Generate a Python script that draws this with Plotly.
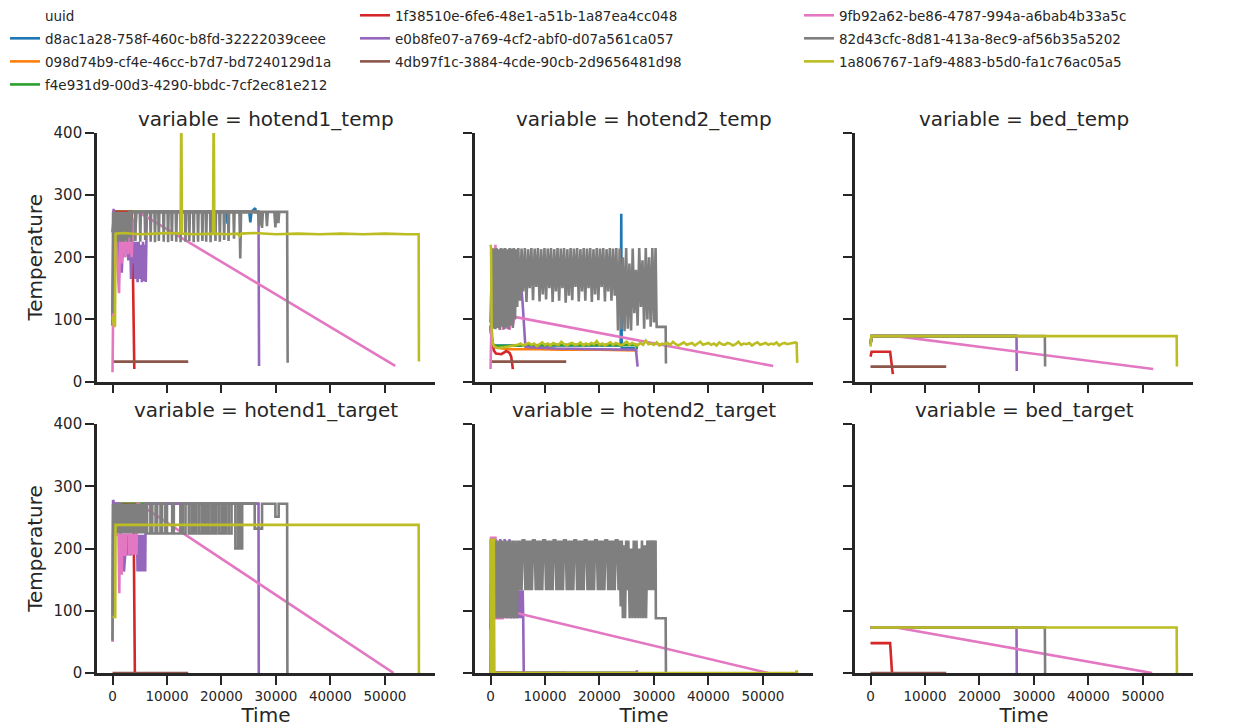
import plotly.graph_objects as go

# ---------------- categories / labels ----------------
PANELS = ["hotend1_temp", "hotend2_temp", "bed_temp",
          "hotend1_target", "hotend2_target", "bed_target"]
UUIDS = ["d8ac1a28-758f-460c-b8fd-32222039ceee",
         "098d74b9-cf4e-46cc-b7d7-bd7240129d1a",
         "f4e931d9-00d3-4290-bbdc-7cf2ec81e212",
         "1f38510e-6fe6-48e1-a51b-1a87ea4cc048",
         "e0b8fe07-a769-4cf2-abf0-d07a561ca057",
         "4db97f1c-3884-4cde-90cb-2d9656481d98",
         "9fb92a62-be86-4787-994a-a6bab4b33a5c",
         "82d43cfc-8d81-413a-8ec9-af56b35a5202",
         "1a806767-1af9-4883-b5d0-fa1c76ac05a5"]
COLORS = ["#1f77b4", "#ff7f0e", "#2ca02c", "#d62728", "#9467bd",
          "#8c564b", "#e377c2", "#7f7f7f", "#bcbd22"]
X_TICKS = [0, 10000, 20000, 30000, 40000, 50000]
Y_TICKS = [0, 100, 200, 300, 400]

# ---------------- series values: (Time, Temperature) ----------------
# d8ac1a28 (blue)
blue_h1t = [(0, 240), (300, 273), (21000, 273), (21100, 254), (21200, 273), (25100, 273),
            (25300, 256), (25500, 273), (26200, 279), (26300, 273), (26500, 273)]
blue_h2t = [(0, 85), (400, 58), (23900, 58), (24000, 270), (24080, 54), (26500, 54)]
blue_bt = [(0, 60), (200, 73), (26500, 73)]
blue_h1g = [(0, 272), (26500, 272)]
blue_h2g = [(0, 0), (26500, 0)]
blue_bg = [(0, 73), (26500, 73)]

# 098d74b9 (orange)
orange_h1t = [(0, 90), (300, 273), (27000, 273)]
orange_h2t = [(0, 90), (300, 60), (800, 55), (3000, 52), (9000, 52), (13000, 51),
              (20000, 51), (27000, 50)]
orange_bt = [(0, 60), (200, 73), (27000, 73)]
orange_h1g = [(0, 272), (27000, 272)]
orange_h2g = [(0, 0), (27000, 0)]
orange_bg = [(0, 73), (27000, 73)]

# f4e931d9 (green)
green_h1t = [(0, 90), (300, 273), (26900, 273)]
green_h2t = [(0, 90), (300, 62), (800, 57), (5000, 58), (12000, 59), (20000, 59),
             (26800, 59), (26850, 52)]
green_bt = [(0, 60), (200, 73), (26900, 73)]
green_h1g = [(0, 272), (26900, 272)]
green_h2g = [(0, 0), (26900, 0)]
green_bg = [(0, 73), (26900, 73)]

# 1f38510e (red)
red_h1t = [(0, 273), (3500, 273), (3700, 205), (4000, 20)]
red_h2t = [(100, 80), (600, 50), (1000, 45), (2000, 44), (2900, 49), (3500, 46),
           (3800, 40), (4100, 20)]
red_bt = [(0, 40), (200, 48), (3600, 48), (4100, 12)]
red_h1g = [(0, 270), (3850, 270), (4100, 0)]
red_h2g = [(0, 28), (50, 28), (100, 0), (4100, 0)]
red_bg = [(0, 48), (3600, 48), (3950, 0)]

# e0b8fe07 (purple)
purple_h1t = [(0, 100), (200, 278), (500, 210), (800, 255), (1150, 162), (1400, 240),
              (1700, 175), (2000, 250), (2300, 200), (2600, 255), (2900, 195), (3200, 245),
              (3400, 165), (3600, 225), (3800, 190), (4000, 225), (4200, 165), (4400, 225),
              (4600, 160), (4800, 225), (5000, 165), (5200, 220), (5400, 160), (5600, 225),
              (5800, 162), (6000, 220), (6100, 160), (6300, 273), (26800, 273), (26900, 25)]
purple_h2t = [(0, 95), (300, 210), (1000, 140), (2000, 200), (3000, 150), (4000, 190),
              (5000, 170), (5600, 158), (5900, 125), (6400, 56), (7000, 55), (12000, 53),
              (20000, 52), (26700, 51), (27000, 24)]
purple_bt = [(0, 60), (200, 73), (26800, 73), (26850, 17)]
purple_h1g = [(0, 90), (100, 278), (300, 272), (1400, 272), (1500, 163), (1600, 222),
              (1700, 163), (1800, 222), (1900, 163), (2000, 222), (2100, 163), (2600, 222),
              (2700, 189), (2800, 222), (2900, 189), (3000, 222), (3100, 189), (3200, 222),
              (3300, 189), (4500, 222), (4600, 163), (4700, 222), (4800, 163), (4900, 222),
              (5000, 163), (5100, 222), (5200, 163), (5300, 222), (5400, 163), (5500, 222),
              (5600, 163), (5700, 222), (5800, 163), (5900, 222), (6000, 163), (6100, 272),
              (26800, 272), (26850, 0)]
purple_h2g = [(0, 0), (200, 215), (600, 88), (1000, 215), (1400, 88), (1800, 215),
              (2200, 88), (2600, 215), (3000, 88), (3500, 215), (3700, 88), (4000, 98),
              (4300, 88), (4600, 98), (4900, 88), (5100, 133), (5300, 88), (5500, 133),
              (5700, 88), (5900, 133), (6000, 88), (6100, 0), (26800, 0), (26850, 4),
              (26900, 0)]
purple_bg = [(0, 73), (26800, 73), (26850, 0)]

# 4db97f1c (brown)
brown_h1t = [(0, 32), (13900, 32)]
brown_h2t = [(0, 32), (13900, 32)]
brown_bt = [(0, 24), (13900, 24)]
brown_h1g = [(0, 0), (13900, 0)]
brown_h2g = [(0, 0), (13900, 0)]
brown_bg = [(0, 0), (13900, 0)]

# 9fb92a62 (pink)
pink_h1t = [(0, 15), (200, 180), (500, 250), (800, 200), (1200, 142), (1400, 230),
            (1700, 190), (2000, 255), (2300, 200), (2600, 260), (2900, 205), (3200, 250),
            (3500, 200), (3800, 262), (4100, 230), (4400, 270), (4700, 273), (51900, 25)]
pink_h2t = [(0, 20), (300, 150), (600, 100), (900, 220), (1100, 130), (1400, 163),
            (1700, 85), (2000, 150), (2300, 83), (2600, 140), (2900, 85), (3200, 145),
            (3500, 83), (3800, 138), (4100, 90), (4400, 104), (51900, 25)]
pink_bt = [(0, 60), (200, 73), (4700, 73), (51900, 20)]
pink_h1g = [(0, 50), (100, 222), (1100, 222), (1150, 128), (1250, 128), (1300, 222),
            (1400, 222), (1450, 160), (1700, 160), (1750, 222), (2000, 222), (2050, 190),
            (2400, 190), (2450, 222), (3000, 222), (3050, 192), (3300, 192), (3350, 222),
            (3500, 222), (3550, 192), (3800, 192), (3850, 222), (4000, 222), (4050, 192),
            (4400, 192), (4450, 222), (4600, 273), (51600, 0)]
pink_h2g = [(0, 0), (100, 217), (900, 217), (1000, 88), (2200, 88), (2250, 136),
            (2350, 88), (2450, 136), (2550, 88), (2650, 136), (2750, 88), (2850, 136),
            (2950, 88), (3050, 136), (3150, 88), (3250, 136), (3350, 88), (3450, 136),
            (3550, 88), (3650, 136), (3750, 88), (3850, 136), (4000, 98), (51000, 0)]
pink_bg = [(0, 73), (4700, 73), (51700, 0)]

# 82d43cfc (gray)
gray_h1t = [(0, 110), (100, 273), (250, 225), (400, 273), (550, 228), (700, 273),
            (850, 225), (1000, 273), (1150, 230), (1300, 273), (1450, 225), (1600, 273),
            (1750, 226), (1900, 273), (2050, 225), (2200, 273), (2350, 228), (2500, 273),
            (2650, 225), (2800, 273), (2950, 232), (3100, 273),
            (3300, 273), (3400, 225), (3500, 273), (4100, 273), (4200, 226), (4300, 273),
            (5000, 273), (5100, 225), (5200, 273), (5900, 273), (6000, 228), (6100, 273),
            (6900, 273), (7000, 225), (7100, 273), (7700, 273), (7800, 224), (7900, 273),
            (8400, 273), (8500, 226), (8600, 273), (9300, 273), (9400, 225), (9500, 273),
            (10100, 273), (10200, 224), (10300, 273), (10800, 273), (10900, 226), (11000, 273),
            (11600, 273), (11700, 225), (11800, 273), (12400, 273), (12500, 224), (12600, 273),
            (13300, 273), (13400, 225), (13500, 273), (14000, 273), (14100, 226), (14200, 273),
            (14800, 273), (14900, 224), (15000, 273), (15600, 273), (15700, 225), (15800, 273),
            (16400, 273), (16500, 226), (16600, 273), (17100, 273), (17200, 225), (17300, 273),
            (17900, 273), (18000, 224), (18100, 273), (18800, 273), (18900, 226), (19000, 273),
            (19600, 273), (19700, 225), (19800, 273), (20400, 273), (20500, 228), (20600, 273),
            (21200, 273), (21300, 226), (21400, 273), (22200, 273), (22300, 230), (22400, 273),
            (23300, 273), (23450, 198), (23600, 273), (26700, 273), (26900, 250), (27100, 273),
            (27300, 273), (27450, 247), (27600, 273), (28200, 273), (28350, 250), (28500, 273),
            (29700, 273), (29900, 248), (30100, 273), (30300, 273), (30450, 255), (30600, 273),
            (32050, 273), (32150, 30)]
gray_h2t = [(100, 88), (300, 215), (500, 85), (700, 214), (900, 84), (1100, 215), (1300, 86),
            (1500, 213), (1700, 83), (1900, 215), (2100, 88), (2300, 214), (2500, 84),
            (2700, 215), (2900, 87), (3100, 213), (3300, 84), (3500, 215), (3700, 90),
            (3900, 214), (4100, 86), (4300, 215), (4500, 100), (4700, 213), (4900, 120),
            (5100, 215), (5400, 130), (5700, 214), (6000, 145), (6300, 215), (6600, 128),
            (6900, 213), (7200, 150), (7500, 215), (7800, 131), (8100, 214), (8400, 152),
            (8700, 215), (9000, 129), (9300, 213), (9600, 140), (9900, 215), (10200, 132),
            (10500, 214), (10800, 150), (11100, 215), (11400, 128), (11700, 213), (12000, 145),
            (12300, 215), (12600, 130), (12900, 214), (13200, 150), (13500, 215), (13800, 127),
            (14100, 213), (14400, 138), (14700, 215), (15000, 131), (15300, 214), (15600, 152),
            (15900, 215), (16200, 129), (16500, 213), (16800, 145), (17100, 215), (17400, 130),
            (17700, 214), (18000, 150), (18300, 215), (18600, 128), (18900, 213), (19200, 140),
            (19500, 215), (19800, 131), (20100, 214), (20400, 152), (20700, 215), (21000, 129),
            (21300, 213), (21600, 145), (21900, 215), (22200, 130), (22500, 214), (22800, 138),
            (23100, 215), (23400, 82), (23700, 214), (24000, 84), (24300, 200), (24600, 81),
            (24900, 215), (25200, 85), (25500, 190), (25800, 82), (26100, 214), (26400, 110),
            (26700, 180), (27000, 90), (27300, 215), (27600, 120), (27900, 195), (28200, 85),
            (28500, 215), (28800, 100), (29100, 200), (29400, 88), (29700, 215), (30000, 95),
            (30300, 215), (30500, 88), (32150, 88), (32200, 29)]
gray_bt = [(0, 60), (200, 73), (32000, 73), (32050, 24)]
gray_h1g = [(0, 52), (100, 272), (250, 224), (400, 272), (550, 224), (700, 272), (850, 224),
            (1000, 272), (1150, 224), (1300, 272), (1450, 224), (1600, 272), (1750, 224),
            (1900, 272), (2050, 224), (2200, 272), (2350, 224), (2500, 272), (2650, 224),
            (2800, 272), (2950, 224), (3100, 272), (3250, 224), (3400, 272), (3550, 224),
            (3700, 272), (3850, 224), (4000, 272), (4150, 224), (4300, 272), (4450, 224),
            (4600, 272), (4750, 224), (4900, 272), (5050, 224), (5200, 272), (5350, 224),
            (5500, 272), (5650, 224), (5800, 272), (5950, 224), (6100, 272),
            (6350, 272), (6350, 224), (6950, 224), (6950, 272),
            (7300, 272), (7300, 224), (7900, 224), (7900, 272),
            (8200, 272), (8200, 224), (8800, 224), (8800, 272),
            (9100, 272), (9100, 224), (9700, 224), (9700, 272),
            (10000, 272), (10000, 224), (10950, 224), (10950, 272),
            (11250, 272), (11250, 224), (12450, 224), (12450, 272),
            (12900, 272), (12900, 224), (13400, 224), (13400, 272),
            (14000, 272), (14000, 224), (14500, 224), (14500, 272),
            (14900, 272), (14900, 224), (15350, 224), (15350, 272),
            (15850, 272), (15850, 224), (16350, 224), (16350, 272),
            (16750, 272), (16750, 224), (17200, 224), (17200, 272),
            (17650, 272), (17650, 224), (18150, 224), (18150, 272),
            (18600, 272), (18600, 224), (19000, 224), (19000, 272),
            (19500, 272), (19500, 224), (20000, 224), (20000, 272),
            (20400, 272), (20400, 224), (20850, 224), (20850, 272),
            (21350, 272), (21350, 224), (21850, 224), (21850, 272),
            (22550, 272), (22550, 200), (23050, 200), (23050, 272),
            (23350, 272), (23350, 200), (23800, 200), (23800, 272),
            (26100, 272), (26100, 232), (27450, 232), (27450, 272),
            (29900, 272), (29900, 251), (30500, 251), (30500, 272),
            (32050, 272), (32100, 0)]
gray_h2g = [(0, 70), (100, 213), (350, 88), (600, 213), (850, 88), (1100, 213), (1350, 88),
            (1600, 213), (1850, 88), (2100, 213), (2350, 88), (2600, 213), (2850, 88),
            (3100, 213), (3350, 88), (3600, 213), (3850, 88), (4100, 213), (4350, 88),
            (4600, 213), (4850, 88), (5100, 213),
            (5300, 133), (5500, 213), (5700, 133), (5900, 213), (6200, 213), (6400, 133),
            (6600, 213), (6800, 133), (7000, 213), (7200, 133), (7400, 213), (7600, 133),
            (7800, 213), (8100, 213), (8300, 133), (8500, 213), (8700, 133), (8900, 213),
            (9100, 133), (9300, 213), (9500, 133), (9700, 213), (10000, 213), (10200, 133),
            (10400, 213), (10600, 133), (10800, 213), (11000, 133), (11200, 213), (11400, 133),
            (11600, 213), (11900, 213), (12100, 133), (12300, 213), (12500, 133), (12700, 213),
            (12900, 133), (13100, 213), (13300, 133), (13500, 213), (13800, 213), (14000, 133),
            (14200, 213), (14400, 133), (14600, 213), (14800, 133), (15000, 213), (15200, 133),
            (15400, 213), (15700, 213), (15900, 133), (16100, 213), (16300, 133), (16500, 213),
            (16700, 133), (16900, 213), (17100, 133), (17300, 213), (17600, 213), (17800, 133),
            (18000, 213), (18200, 133), (18400, 213), (18600, 133), (18800, 213), (19000, 133),
            (19200, 213), (19500, 213), (19700, 133), (19900, 213), (20100, 133), (20300, 213),
            (20500, 133), (20700, 213), (20900, 133), (21100, 213), (21400, 213), (21600, 133),
            (21800, 213), (22000, 133), (22200, 213), (22400, 133), (22600, 213), (22800, 133),
            (23000, 213), (23300, 213), (23500, 133), (23700, 213),
            (23900, 107), (24100, 213), (24300, 88), (24500, 205), (24700, 88), (24900, 213),
            (25100, 133), (25300, 213), (25550, 88), (25800, 200), (26050, 88), (26300, 213),
            (26550, 88), (26800, 213), (27050, 88), (27300, 200), (27550, 88), (27800, 213),
            (28050, 88), (28300, 205), (28550, 88), (28800, 213), (29050, 133), (29300, 213),
            (29550, 133), (29800, 213), (30050, 133), (30300, 213), (30350, 88), (32150, 88),
            (32200, 0)]
gray_bg = [(0, 73), (32000, 73), (32050, 0)]

# 1a806767 (olive)
olive_h1t = [(0, 105), (300, 88), (450, 90), (550, 238), (2000, 239), (5000, 237),
             (8000, 238), (10000, 239), (12500, 238), (12620, 450), (12750, 238), (15000, 237),
             (18450, 238), (18570, 450), (18700, 238), (21000, 237), (23000, 238), (23300, 234),
             (23600, 238), (26000, 239), (30000, 237), (34000, 238), (38000, 237), (42000, 238),
             (46000, 237), (50000, 238), (54000, 237), (56200, 237), (56250, 32)]
olive_h2t_time = [0, 100, 200, 400, 700, 1300, 2500, 4000,
                  5000, 5500, 6000, 6500, 7000, 7500, 8000, 8500, 9000, 9500,
                  10000, 10500, 11000, 11500, 12000, 12500, 13000, 13500, 14000, 14500,
                  15000, 15500, 16000, 16500, 17000, 17500, 18000, 18500, 19000, 19500,
                  20000, 20500, 21000, 21500, 22000, 22500, 23000, 23500, 24000, 24500,
                  25000, 25500, 26000, 26500, 27000, 27500, 28000, 28500, 29000, 29500,
                  30000, 30500, 31000, 31500, 32000, 32500, 33000, 33500, 34000, 34500,
                  35000, 35500, 36000, 36500, 37000, 37500, 38000, 38500, 39000, 39500,
                  40000, 40500, 41000, 41500, 42000, 42500, 43000, 43500, 44000, 44500,
                  45000, 45500, 46000, 46500, 47000, 47500, 48000, 48500, 49000, 49500,
                  50000, 50500, 51000, 51500, 52000, 52500, 53000, 53500, 54000, 54500,
                  55000, 55500, 56000, 56200, 56300]
olive_h2t_temp = [220, 215, 90, 62, 56, 54, 55, 57,
                  59, 61, 58, 60, 62, 59, 61, 57, 60, 63,
                  59, 61, 58, 62, 60, 59, 64, 60, 58, 61,
                  62, 59, 60, 63, 58, 61, 59, 62, 60, 65,
                  59, 61, 58, 60, 63, 59, 62, 60, 58, 61,
                  64, 59, 62, 60, 58, 62, 59, 66, 60, 61,
                  59, 63, 58, 61, 60, 62, 59, 64, 60, 58,
                  61, 63, 59, 60, 62, 58, 61, 64, 59, 60,
                  62, 59, 61, 58, 63, 60, 59, 62, 61, 58,
                  60, 64, 59, 61, 60, 62, 58, 61, 63, 59,
                  60, 62, 59, 61, 60, 63, 58, 61, 62, 60,
                  61, 62, 63, 62, 30]
olive_bt = [(0, 56), (150, 73), (56200, 73), (56250, 24)]
olive_h1g = [(0, 90), (500, 90), (550, 238), (56200, 238), (56250, 0)]
olive_h2g = [(0, 216), (50, 0), (100, 216), (150, 0), (200, 216), (250, 0), (300, 216),
             (350, 0), (400, 216), (450, 0), (500, 216), (550, 0), (600, 216), (650, 0),
             (700, 0), (56100, 0), (56200, 4), (56300, 0)]
olive_bg = [(0, 73), (56200, 73), (56250, 0)]
olive_h2t = list(zip(olive_h2t_time, olive_h2t_temp))

# table built from the named lists: series -> panel -> points
TABLE = {
    UUIDS[0]: [blue_h1t, blue_h2t, blue_bt, blue_h1g, blue_h2g, blue_bg],
    UUIDS[1]: [orange_h1t, orange_h2t, orange_bt, orange_h1g, orange_h2g, orange_bg],
    UUIDS[2]: [green_h1t, green_h2t, green_bt, green_h1g, green_h2g, green_bg],
    UUIDS[3]: [red_h1t, red_h2t, red_bt, red_h1g, red_h2g, red_bg],
    UUIDS[4]: [purple_h1t, purple_h2t, purple_bt, purple_h1g, purple_h2g, purple_bg],
    UUIDS[5]: [brown_h1t, brown_h2t, brown_bt, brown_h1g, brown_h2g, brown_bg],
    UUIDS[6]: [pink_h1t, pink_h2t, pink_bt, pink_h1g, pink_h2g, pink_bg],
    UUIDS[7]: [gray_h1t, gray_h2t, gray_bt, gray_h1g, gray_h2g, gray_bg],
    UUIDS[8]: [olive_h1t, olive_h2t, olive_bt, olive_h1g, olive_h2g, olive_bg],
}
LEGEND_OF = ["legend", "legend", "legend", "legend2", "legend2", "legend2",
             "legend3", "legend3", "legend3"]

# ---------------- figure ----------------
W, H = 1238, 727
FONT = "DejaVu Sans"
INK = "#262626"
COL_DOM = [(97 / W, 435 / W), (475 / W, 813 / W), (855 / W, 1193 / W)]
ROW_DOM = [(1 - 381.5 / H, 1 - 133 / H), (1 - 673 / H, 1 - 424 / H)]

fig = go.Figure()
fig.add_trace(go.Scatter(x=[None], y=[None], mode="lines", name="uuid",
                         line=dict(color="rgba(0,0,0,0)", width=0),
                         legend="legend", legendgroup="title", showlegend=True,
                         hoverinfo="skip"))

for p, panel in enumerate(PANELS):
    sfx = "" if p == 0 else str(p + 1)
    for k, uid in enumerate(UUIDS):
        pts = TABLE[uid][p]
        fig.add_trace(go.Scatter(
            x=[a for a, b in pts], y=[b for a, b in pts], mode="lines",
            name=uid, legendgroup=uid, legend=LEGEND_OF[k], showlegend=(p == 0),
            line=dict(color=COLORS[k], width=2.6),
            xaxis="x" + sfx, yaxis="y" + sfx))

layout = dict(
    width=W, height=H, margin=dict(l=0, r=0, t=0, b=0),
    paper_bgcolor="white", plot_bgcolor="white",
    font=dict(family=FONT, color=INK),
    showlegend=True, hovermode=False,
    annotations=[],
)
for p, panel in enumerate(PANELS):
    r, c = divmod(p, 3)
    sfx = "" if p == 0 else str(p + 1)
    ax_common = dict(showline=True, linewidth=2.6, linecolor=INK, ticks="outside",
                     ticklen=9, tickwidth=2.4, tickcolor=INK, showgrid=False,
                     zeroline=False, automargin=False)
    xa = dict(ax_common, domain=list(COL_DOM[c]), anchor="y" + sfx,
              range=[-2850, 59200], tickmode="array", tickvals=X_TICKS,
              ticktext=[str(v) for v in X_TICKS], showticklabels=(r == 1),
              tickfont=dict(size=13.5, family=FONT, color=INK))
    if r == 1:
        xa["title"] = dict(text="Time", font=dict(size=20, family=FONT, color=INK),
                           standoff=4)
    ya = dict(ax_common, domain=list(ROW_DOM[r]), anchor="x" + sfx,
              range=[0, 400], tickmode="array", tickvals=Y_TICKS,
              ticktext=[str(v) for v in Y_TICKS], showticklabels=(c == 0),
              tickfont=dict(size=15, family=FONT, color=INK))
    if c == 0:
        ya["title"] = dict(text="Temperature", font=dict(size=20, family=FONT, color=INK),
                           standoff=6)
    layout["xaxis" + sfx] = xa
    layout["yaxis" + sfx] = ya
    layout["annotations"].append(dict(
        text="variable = " + panel, xref="paper", yref="paper",
        x=sum(COL_DOM[c]) / 2, y=ROW_DOM[r][1], xanchor="center", yanchor="bottom",
        yshift=0, showarrow=False, font=dict(size=20, family=FONT, color=INK)))

leg_common = dict(orientation="v", yanchor="top", y=1.0, xanchor="left",
                  traceorder="grouped", tracegroupgap=2.5, itemwidth=30,
                  bgcolor="rgba(0,0,0,0)", font=dict(size=13.5, family=FONT, color=INK))
layout["legend"] = dict(leg_common, x=5 / W)
layout["legend2"] = dict(leg_common, x=355 / W)
layout["legend3"] = dict(leg_common, x=799 / W)

fig.update_layout(**layout)
fig.write_html("out.html")
